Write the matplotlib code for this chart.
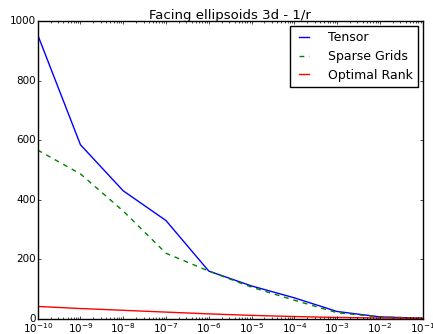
import matplotlib
matplotlib.use("Agg")
import matplotlib.pyplot as plt

plt.style.use('classic')

tol = [1e-10, 1e-9, 1e-8, 1e-7, 1e-6, 1e-5, 1e-4, 1e-3, 1e-2, 1e-1]
tensor = [955, 585, 430, 330, 160, 110, 70, 24, 6, 1]
sparse = [567, 487, 362, 220, 160, 106, 62, 20, 6, 1]
optimal = [41, 34, 28, 22, 16, 11, 7, 4, 2, 1]

fig = plt.figure(figsize=(4.33, 3.34), dpi=100)
ax = fig.add_axes([0.087, 0.046, 0.889, 0.89])
ax.semilogx(tol, tensor, 'b-', lw=1, label='Tensor')
ax.semilogx(tol, sparse, 'g--', lw=1, dashes=(3.5, 3.5), label='Sparse Grids')
ax.semilogx(tol, optimal, 'r-', lw=1, label='Optimal Rank')
ax.set_xlim(1e-10, 1e-1)
ax.set_ylim(0, 1000)
ax.set_yticks([0, 200, 400, 600, 800, 1000])
ax.tick_params(which='major', labelsize=7.5, length=2.5, pad=1.5)
ax.tick_params(which='minor', length=1.5)
ax.set_title('Facing ellipsoids 3d - 1/r', fontsize=9.5, pad=2)
ax.legend(loc='upper right', fontsize=9, handlelength=1.4, handletextpad=1.2,
          labelspacing=0.45, borderaxespad=0.4)
fig.savefig('out.png', dpi=100)
